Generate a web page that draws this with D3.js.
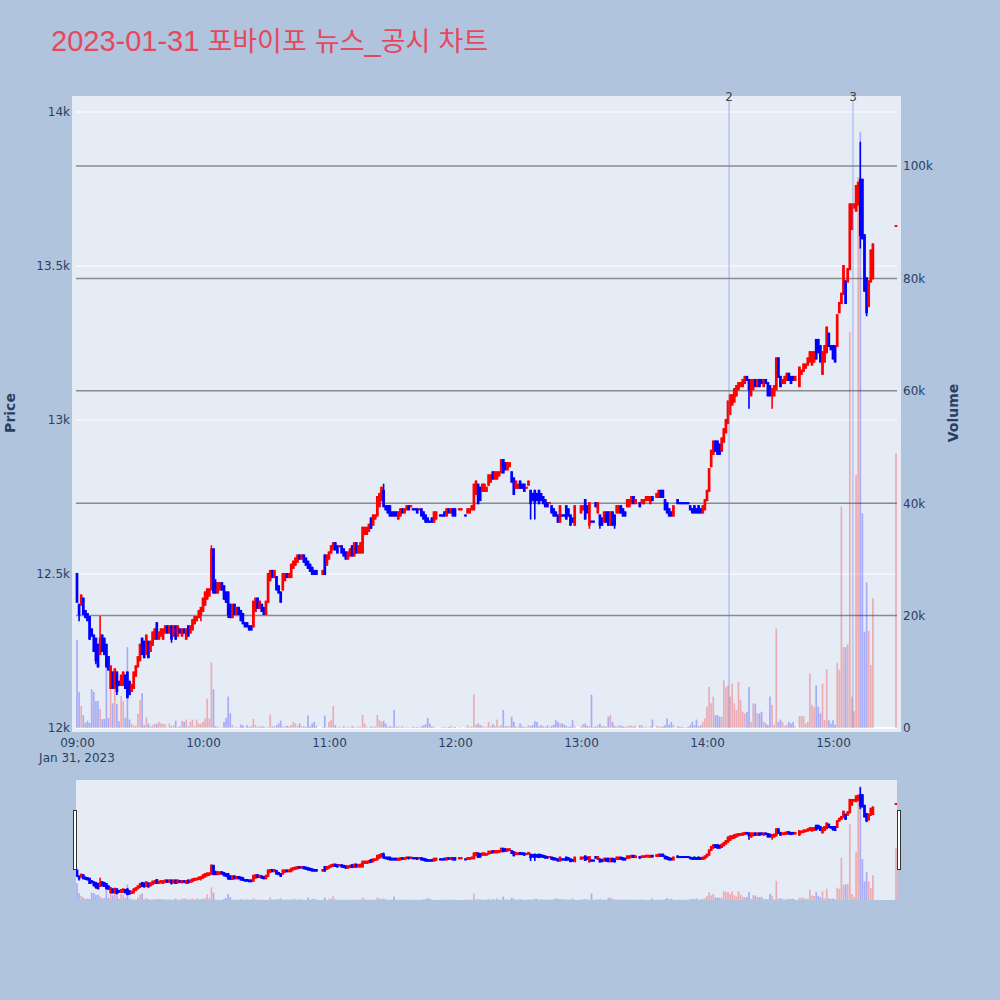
<!DOCTYPE html>
<html><head><meta charset="utf-8">
<script src="https://cdn.jsdelivr.net/npm/d3@7"></script>
<style>
body{margin:0;background:#B0C4DE}
svg{display:block}
text{white-space:pre}
</style>
</head><body>
<svg id="chart" width="1000" height="1000"></svg>
<script>
// ---------------- data ----------------
const sessionStart = "2023-01-31T09:00:00";     // first 1-minute candle
const closingAuction = "2023-01-31T15:30:00";   // last element of every array
const titleText = ["2023-01-31 ", "포바이포", " ", "뉴스", "_", "공시", " ", "차트"];

const opens = [
12500,12400,12400,12420,12380,12370,12360,12320,12300,12290,
12270,12240,12300,12290,12270,12230,12130,12180,12130,12180,
12150,12140,12140,12170,12180,12150,12120,12130,12170,12200,
12220,12290,12280,12240,12280,12250,12270,12290,12340,12290,
12300,12290,12310,12330,12310,12330,12300,12330,12300,12320,
12300,12320,12290,12330,12310,12320,12340,12350,12360,12370,
12380,12400,12420,12430,12450,12580,12470,12440,12450,12470,
12460,12440,12440,12400,12360,12400,12370,12390,12380,12370,
12340,12340,12330,12330,12330,12380,12420,12390,12400,12390,
12370,12410,12480,12510,12490,12490,12460,12440,12450,12480,
12500,12490,12490,12520,12530,12540,12560,12550,12560,12550,
12540,12530,12520,12510,12510,null,null,12500,12560,12530,
12550,12570,12580,12600,12590,12590,12590,12580,12570,12550,
12560,12590,12560,12600,12570,12570,12570,12630,12630,12640,
12680,12660,12680,12690,12720,12740,12770,12720,12720,12720,
12700,12700,12700,12680,12690,12710,12700,12710,12720,12720,
12710,12710,12710,12710,12710,12700,12690,12680,12670,12680,
12670,12680,null,12690,12690,12700,12690,12710,12700,12710,
12710,null,12710,12710,null,12690,12700,12700,12710,12710,
12760,12790,12780,12770,12770,12770,12790,12800,12830,12810,
12810,12820,12830,12870,12860,12840,12850,12830,12810,12780,
12780,12800,12790,12790,12780,12790,12770,12760,12770,12760,
12770,12760,12750,12740,12730,12730,12720,12710,12700,12690,
12670,12690,12690,12720,12710,12690,12680,12660,null,null,
12700,12710,12740,12720,12660,12670,12670,12730,12700,12690,
12680,12670,12700,12700,12660,12700,12690,12700,12700,12720,
12710,12700,12720,12720,12730,12750,12730,null,12730,12730,
12730,12740,12740,12730,12750,null,12750,12750,12770,12770,
12740,12730,12710,12700,12690,null,12740,12730,12730,12730,
12730,12730,12720,12710,12720,12710,12720,12710,12700,12710,
12740,12770,12850,12890,12930,12930,12920,12900,12930,12960,
12990,13020,13050,13060,13080,13100,13110,13110,13120,13140,
13130,13080,13100,13130,13110,13130,13130,13110,13130,13120,
13110,13080,13080,13100,13200,13140,13120,13120,13130,13150,
13140,13140,13130,null,13110,13150,13160,13170,13180,13190,
13180,13190,13260,13260,13240,13150,13190,13220,13280,13240,
13240,13240,13240,13350,13380,13410,13450,13450,13490,13620,
13690,13680,13700,13780,13780,13600,13460,13370,13450,13460,
13630];

const closes = [
12410,12370,12430,12370,12360,12350,12290,12300,12250,12220,
12200,12290,12250,12240,12200,12190,12200,12130,12190,12120,
12140,12170,12180,12130,12100,12110,12140,12180,12200,12230,
12270,12240,12230,12300,12230,12280,12310,12320,12290,12310,
12320,12320,12330,12310,12330,12290,12330,12290,12330,12310,
12320,12310,12320,12300,12330,12350,12360,12360,12380,12390,
12420,12440,12450,12450,12580,12440,12440,12470,12470,12450,
12420,12410,12370,12360,12400,12370,12390,12370,12350,12340,
12330,12330,12320,12320,12410,12420,12390,12410,12380,12370,
12410,12500,12510,12490,12510,12450,12440,12410,12500,12500,
12490,12500,12530,12540,12550,12560,12550,12560,12540,12530,
12520,12510,12500,12500,12500,null,null,12510,12500,12560,
12570,12590,12600,12580,12570,12590,12570,12560,12550,12570,
12580,12560,12600,12570,12590,12600,12650,12650,12650,12660,
12650,12690,12690,12750,12760,12780,12720,12710,12700,12690,
12690,12690,12690,12700,12710,12700,12710,12720,12710,12720,
12710,12710,12700,12710,12690,12680,12670,12670,12670,12670,
12700,12700,null,12690,12690,12690,12710,12700,12710,12690,
12690,null,12710,12710,null,12690,12710,12710,12720,12790,
12800,12730,12740,12790,12790,12780,12820,12820,12810,12830,
12830,12830,12870,12830,12840,12860,12860,12800,12760,12800,
12790,12780,12780,12770,12780,12800,12730,12740,12730,12740,
12730,12740,12730,12720,12720,12730,12700,12690,12690,12670,
12720,12690,12690,12680,12690,12660,12670,12720,null,null,
12720,12720,12680,12700,12730,12670,12670,12720,12730,12660,
12660,12700,12670,12660,12700,12660,12660,12720,12720,12700,
12690,12690,12740,12740,12750,12730,12740,null,12720,12740,
12740,12750,12750,12750,12740,null,12760,12770,12750,12750,
12710,12700,12690,12690,12720,null,12730,12730,12730,12730,
12730,12730,12710,12700,12700,12700,12700,12700,12720,12740,
12770,12840,12900,12930,12900,12890,12890,12940,12970,13000,
13060,13080,13080,13100,13110,13120,13120,13130,13140,13130,
13100,13130,13130,13110,13130,13110,13120,13130,13120,13080,
13080,13100,13110,13200,13140,13110,13130,13140,13150,13130,
13120,13130,13140,null,13170,13160,13180,13180,13200,13220,
13220,13220,13200,13220,13190,13220,13240,13300,13240,13230,
13200,13190,13340,13380,13410,13500,13380,13490,13700,13700,
13700,13760,13770,13600,13590,13420,13350,13450,13550,13570,
13630];

// visible wicks beyond the candle body: [candle index, price]
const wickHighs = [[11,12360],[38,12340],[64,12590],[66,12480],[146,12790],[373,13900]];
const wickLows  = [[1,12350],[9,12210],[11,12240],[19,12110],[45,12280],[59,12350],[72,12360],
                   [216,12680],[218,12680],[244,12650],[249,12650],[256,12650],[320,13040],
                   [331,13040],[355,13150],[373,13560],[376,13340]];

const volumes = [
15700,6400,3900,2300,900,1300,900,6900,6400,4800,
4800,3400,1600,1600,13900,1800,7000,4400,7100,4300,
1200,5700,4800,1800,14400,1500,700,400,400,2500,
5000,6200,500,1900,800,300,500,800,700,1100,
800,700,700,100,800,300,500,1300,200,300,
1300,1100,1500,300,1100,1500,300,1500,800,800,
1100,1700,5200,1700,11700,6900,300,200,100,100,
1100,1800,5600,2600,500,100,200,100,600,500,
100,500,200,300,1600,500,200,300,300,200,
100,200,2400,300,300,500,800,1300,300,300,
400,300,500,1100,800,300,800,300,300,200,
2200,300,800,1100,300,0,0,200,2200,100,
1100,1400,3900,500,100,200,100,300,100,200,
100,300,200,100,300,200,2300,800,200,100,
300,200,300,2300,1400,1100,1300,800,200,300,
200,3200,200,300,200,300,100,200,100,100,
200,100,200,100,300,500,700,1800,800,300,
200,100,0,100,100,200,100,200,400,100,
200,0,100,100,0,100,500,200,300,6000,
600,800,500,400,200,200,1100,300,700,400,
1500,300,500,3200,300,400,300,2000,1100,300,
200,800,300,200,200,500,400,500,1200,1100,
300,500,300,200,500,200,400,600,1400,1100,
800,800,600,400,200,300,1400,300,0,0,
300,700,800,400,300,5900,200,300,500,800,
300,400,200,2000,2300,1100,400,300,500,400,
300,200,300,500,400,300,400,0,500,500,
200,200,100,300,1500,0,400,300,200,300,
500,1700,600,1100,500,0,300,200,200,100,
100,200,500,1100,500,1500,300,500,1100,1700,
3800,7300,4400,5600,2300,2300,2000,2000,8500,7300,
7600,5600,7900,4400,3200,8200,5000,2900,2600,2900,
7300,1100,4400,4300,2600,2600,2900,1100,800,500,
5600,4100,600,17700,1100,1500,1100,400,600,1100,
800,1100,300,0,2100,2100,2100,800,1100,9700,
4100,3700,7600,3800,2600,7900,1400,10500,1400,800,
1400,600,11600,10400,39400,14400,14400,14900,70500,5600,
3000,45000,98000,106000,38200,17100,25900,17300,11200,23100,
48900];

const newsTimes  = ["2023-01-31T14:10:30", "2023-01-31T15:09:30"];
const newsLabels = ["2", "3"];
const priceTicks  = [12000, 12500, 13000, 13500, 14000];
const volumeTicks = [0, 20000, 40000, 60000, 80000, 100000];
const priceRange  = [12000, 14039];
const volumeRange = [0, 111740];

// ---------------- build ----------------
const parse = d3.timeParse("%Y-%m-%dT%H:%M:%S");
const t0 = parse(sessionStart);
const tEnd = parse(closingAuction);
const lastIdx = opens.length - 1;
const hiMap = new Map(wickHighs), loMap = new Map(wickLows);

const candles = [];
let prevC = null, prevInc = true;
for (let i = 0; i < opens.length; i++) {
  const time = i === lastIdx ? tEnd : d3.timeMinute.offset(t0, i);
  const o = opens[i], c = closes[i];
  if (o == null) { candles.push({time, o:null, v:volumes[i], inc:prevInc}); continue; }
  let inc;
  if (c > o) inc = true; else if (c < o) inc = false;
  else inc = (prevC != null && c !== prevC) ? c > prevC : prevInc;
  const h = hiMap.has(i) ? hiMap.get(i) : Math.max(o, c);
  const l = loMap.has(i) ? loMap.get(i) : Math.min(o, c);
  candles.push({time, o, c, h, l, v: volumes[i], inc});
  prevC = c; prevInc = inc;
}

const W = 1000;
const L = 76, R = 897, T = 100, B = 728;       // axis domain
const SL_T = 780, SL_B = 900;                  // range slider
const pad = 28571;                              // ms padding of x range
const x = d3.scaleTime().domain([new Date(+t0 - pad), new Date(+tEnd + pad)]).range([L, R]);
const yP = d3.scaleLinear().domain(priceRange).range([B, T]);
const yV = d3.scaleLinear().domain(volumeRange).range([B, T]);
const yPs = d3.scaleLinear().domain(priceRange).range([SL_B, SL_T]);
const yVs = d3.scaleLinear().domain(volumeRange).range([SL_B, SL_T]);

const RED = "#ff0000", BLUE = "#0000ff";
const tickFont = "DejaVu Sans, Verdana, sans-serif";
const ink = "#2a3f5f";

const svg = d3.select("#chart");
svg.append("rect").attr("width", W).attr("height", 1000).attr("fill", "#B0C4DE");

// title
const title = svg.append("text").attr("x", 51).attr("y", 51).attr("fill", "#e8465c");
titleText.forEach(s => {
  const isHangul = /[\uac00-\ud7a3]/.test(s);
  title.append("tspan")
    .attr("font-family", isHangul ? "Noto Sans CJK KR" : "Liberation Sans, Arial, sans-serif")
    .attr("font-size", isHangul ? 27 : 29)
    .text(s);
});

// plot background
svg.append("rect").attr("x", L - 4).attr("y", T - 4).attr("width", R - L + 8).attr("height", B - T + 8).attr("fill", "#E5ECF6");

// gridlines
const grid = svg.append("g");
grid.selectAll(".gp").data(priceTicks).join("line")
  .attr("x1", L).attr("x2", R).attr("y1", d => yP(d)).attr("y2", d => yP(d))
  .attr("stroke", "#fff").attr("stroke-width", 1);
grid.selectAll(".gv").data(volumeTicks.filter(d => d > 0)).join("line")
  .attr("x1", L).attr("x2", R).attr("y1", d => yV(d)).attr("y2", d => yV(d))
  .attr("stroke", "#8a8a8a").attr("stroke-width", 1.5);
grid.append("line").attr("x1", L).attr("x2", R).attr("y1", yV(0)).attr("y2", yV(0))
  .attr("stroke", "#fff").attr("stroke-width", 2);

function drawCandles(g, yPrice) {
  const valid = candles.filter(d => d.o != null);
  g.selectAll("line.w").data(valid).join("line").attr("class", "w")
    .attr("x1", d => x(d.time)).attr("x2", d => x(d.time))
    .attr("y1", d => yPrice(d.h) - 1).attr("y2", d => yPrice(d.l) + 1)
    .attr("stroke", d => d.inc ? RED : BLUE).attr("stroke-width", 1.6);
  g.selectAll("rect.b").data(valid).join("rect").attr("class", "b")
    .attr("x", d => x(d.time) - 1.35).attr("width", 2.7)
    .attr("y", d => yPrice(Math.max(d.o, d.c)) - 1)
    .attr("height", d => yPrice(Math.min(d.o, d.c)) - yPrice(Math.max(d.o, d.c)) + 2)
    .attr("fill", d => d.inc ? RED : BLUE);
}
function drawVolume(g, yVol) {
  g.selectAll("rect.v").data(candles.filter(d => d.v > 0)).join("rect").attr("class", "v")
    .attr("x", d => x(d.time) - 0.85).attr("width", 1.7)
    .attr("y", d => yVol(d.v)).attr("height", d => yVol(0) - yVol(d.v))
    .attr("fill", d => d.inc ? RED : BLUE).attr("fill-opacity", 0.27);
}

svg.append("clipPath").attr("id", "clipMain").append("rect")
  .attr("x", L - 4).attr("y", T - 4).attr("width", R - L + 8).attr("height", B - T + 8);
const plot = svg.append("g").attr("clip-path", "url(#clipMain)");
drawCandles(plot.append("g"), yP);
drawVolume(plot.append("g"), yV);

// news / disclosure markers
const marks = newsTimes.map((t, i) => ({time: parse(t), label: newsLabels[i]}));
svg.selectAll("line.news").data(marks).join("line")
  .attr("x1", d => x(d.time)).attr("x2", d => x(d.time)).attr("y1", T).attr("y2", B)
  .attr("stroke", "#6f84e0").attr("stroke-opacity", 0.6).attr("stroke-width", 1);
svg.selectAll("text.news").data(marks).join("text")
  .attr("x", d => x(d.time)).attr("y", 101).attr("text-anchor", "middle")
  .attr("font-family", tickFont).attr("font-size", 12).attr("fill", "#444").text(d => d.label);

// axes
function styleAxis(g) {
  g.select(".domain").remove();
  g.selectAll("line").remove();
  g.selectAll("text").attr("font-family", tickFont).attr("font-size", 12).attr("fill", ink);
}
svg.append("g").attr("transform", `translate(${L - 4},0)`)
  .call(d3.axisLeft(yP).tickValues(priceTicks).tickSize(0).tickPadding(2).tickFormat(d3.format("~s")))
  .call(styleAxis);
svg.append("g").attr("transform", `translate(${R + 4},0)`)
  .call(d3.axisRight(yV).tickValues(volumeTicks).tickSize(0).tickPadding(2).tickFormat(d3.format("~s")))
  .call(styleAxis);
svg.append("g").attr("transform", `translate(0,${B + 4})`)
  .call(d3.axisBottom(x).ticks(d3.timeHour.every(1)).tickSize(0).tickPadding(6).tickFormat(d3.timeFormat("%H:%M")))
  .call(styleAxis);
svg.append("text").attr("x", x(t0)).attr("y", 762).attr("text-anchor", "middle")
  .attr("font-family", tickFont).attr("font-size", 12).attr("fill", ink)
  .text(d3.timeFormat("%b %-d, %Y")(t0));

// axis titles
svg.append("text").attr("transform", "translate(15,413) rotate(-90)").attr("text-anchor", "middle")
  .attr("font-family", tickFont).attr("font-weight", "bold").attr("font-size", 14).attr("fill", ink).text("Price");
svg.append("text").attr("transform", "translate(958,413) rotate(-90)").attr("text-anchor", "middle")
  .attr("font-family", tickFont).attr("font-weight", "bold").attr("font-size", 14).attr("fill", ink).text("Volume");

// range slider
svg.append("rect").attr("x", L).attr("y", SL_T).attr("width", R - L).attr("height", SL_B - SL_T).attr("fill", "#E5ECF6");
svg.append("clipPath").attr("id", "clipSlider").append("rect")
  .attr("x", L).attr("y", SL_T).attr("width", R - L).attr("height", SL_B - SL_T);
const slider = svg.append("g").attr("clip-path", "url(#clipSlider)");
drawCandles(slider.append("g"), yPs);
drawVolume(slider.append("g"), yVs);
[L - 2.5, R + 0.5].forEach(hx => {
  svg.append("rect").attr("x", hx).attr("y", 810.5).attr("width", 3).attr("height", 59)
    .attr("fill", "#fff").attr("stroke", "#333").attr("stroke-width", 1);
});
</script>
</body></html>
